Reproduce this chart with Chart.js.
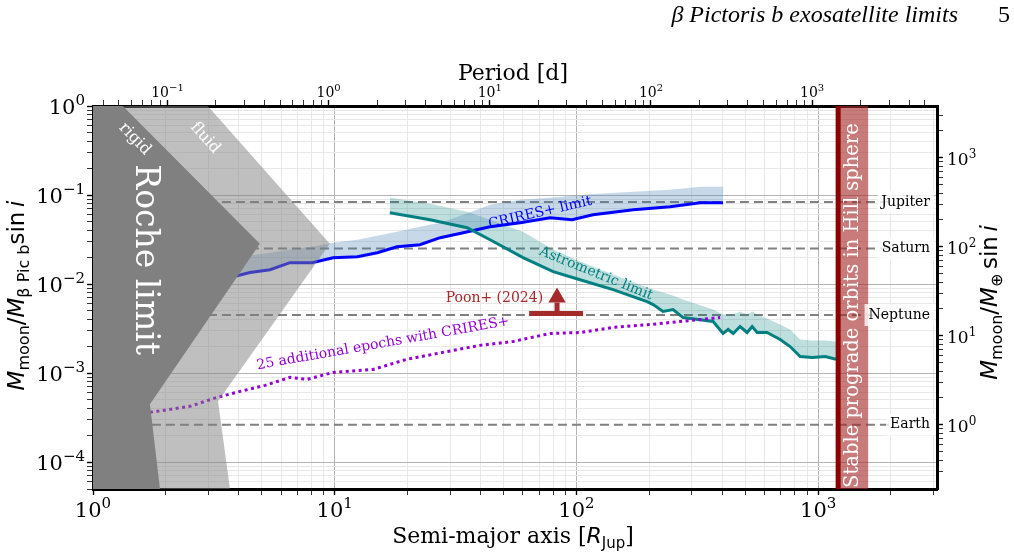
<!DOCTYPE html>
<html>
<head>
<meta charset="utf-8">
<script src="https://cdn.jsdelivr.net/npm/chart.js"></script>
<style>
  html, body { margin: 0; padding: 0; background: #fff; }
</style>
</head>
<body>
<canvas id="chart" width="1014" height="555"></canvas>
<script>
// axis ranges (semi-major axis in R_Jup, moon mass in units of beta Pic b)
const aMin = 1, aMax = 3100;
const mMin = 5e-5, mMax = 1;
const earthPerPicb = 3800;      // M_earth per M_betaPic b
const periodAt1RJ = 0.0345;     // orbital period [d] at a = 1 R_Jup

// reference planets (Earth masses)
const planetNames = ['Jupiter', 'Saturn', 'Neptune', 'Earth'];
const planetMasses = [317.8, 95.2, 17.1, 1];
const planetLineA = [0.9, 2000];
const planetLabelA = 2900;

// CRIRES+ limit and its band
const criresA = [3.2, 3.8, 4.46, 5.4, 6.53, 8.06, 9.84, 12.4, 15.0, 18.1, 22.5, 27.3, 34.0, 43.9, 58.5, 77.8, 95.9, 117, 172, 244, 325, 404];
const criresLimit = [0.0107, 0.0121, 0.0135, 0.0145, 0.0174, 0.0174, 0.0198, 0.0203, 0.0225, 0.0263, 0.0277, 0.0332, 0.0378, 0.0441, 0.0489, 0.0556, 0.0528, 0.0601, 0.0684, 0.0738, 0.0819, 0.0819];
const criresUpper = [0.0161, 0.0179, 0.0209, 0.0225, 0.0244, 0.0263, 0.0292, 0.0315, 0.0350, 0.0388, 0.0441, 0.0489, 0.0601, 0.0777, 0.0885, 0.0932, 0.0981, 0.103, 0.109, 0.115, 0.124, 0.124];

// astrometric limit and its band
const astroA = [16.9, 24.8, 35.3, 43.9, 60.1, 80.1, 103.5, 141.7, 196, 207.5, 228, 251, 276, 367.5, 404, 424, 445, 475, 508, 533, 559, 614, 696, 765, 842, 944, 1068, 1186];
const astroLimit = [0.0633, 0.0528, 0.0430, 0.0315, 0.0198, 0.0138, 0.0112, 0.00868, 0.00637, 0.00589, 0.00492, 0.00518, 0.00421, 0.00380, 0.00279, 0.00309, 0.00279, 0.00334, 0.00286, 0.00334, 0.00286, 0.00286, 0.00239, 0.00199, 0.00154, 0.00150, 0.00154, 0.00143];
const astroUpper = [0.0932, 0.0798, 0.0649, 0.0528, 0.0388, 0.0244, 0.0179, 0.0128, 0.00914, 0.00868, 0.00803, 0.00743, 0.00670, 0.00518, 0.00455, 0.00455, 0.00455, 0.00492, 0.00455, 0.00492, 0.00455, 0.00410, 0.00352, 0.00309, 0.00239, 0.00233, 0.00233, 0.00227];

// 25 additional epochs with CRIRES+
const epochsA = [1.72, 2.52, 3.26, 4.06, 5.15, 6.53, 7.68, 9.84, 14.4, 19.9, 29.2, 39.9, 54.7, 77.8, 103.5, 141.7, 202, 268, 393];
const epochsLimit = [3.63e-4, 4.24e-4, 5.35e-4, 6.24e-4, 7.29e-4, 8.96e-4, 8.51e-4, 1.02e-3, 1.10e-3, 1.43e-3, 1.75e-3, 2.05e-3, 2.27e-3, 2.79e-3, 2.86e-3, 3.26e-3, 3.52e-3, 3.80e-3, 4.21e-3];

// Roche limit regions (outlines)
const rigidA = [0.8, 1.03, 4.90, 1.72, 1.97, 0.8];
const rigidM = [2, 2, 0.0284, 4.47e-4, 2e-5, 2e-5];
const fluidA = [0.8, 2.38, 9.54, 3.29, 3.86, 0.8];
const fluidM = [2, 2, 0.0284, 4.83e-4, 2e-5, 2e-5];

// Poon+ (2024) lower limit
const poonA = [63.7, 106.5];
const poonM = 4.67e-3;
const poonArrowA = 83.1;
const poonShaftTop = 6.2e-3;
const poonHeadM = 7.06e-3;

// stable prograde orbits in Hill sphere
const hillA = [1209, 1609];
const hillM = [1e-6, 10];

// decade tick labels
const aTicks = [1, 10, 100, 1000];
const mTicks = [1e-4, 1e-3, 1e-2, 1e-1, 1];
const pTicks = [0.1, 1, 10, 100, 1000];
const eTicks = [1, 10, 100, 1000];

const pts = (xs, ys) => xs.map((x, i) => ({x: x, y: Array.isArray(ys) ? ys[i] : ys}));
const isDecade = v => Math.abs(v / Math.pow(10, Math.round(Math.log10(v))) - 1) < 1e-6;

// keep only 1..9 x 10^n ticks
function intTicks(scale) {
  scale.ticks = scale.ticks.filter(t => {
    const e = Math.floor(Math.log10(t.value) + 1e-9);
    const r = t.value / Math.pow(10, e);
    return Math.abs(r - Math.round(r)) < 1e-6 && Math.round(r) < 10;
  });
}

function gridOpts(onArea) {
  return {
    drawOnChartArea: onArea,
    color: c => (c.tick && isDecade(c.tick.value)) ? '#b4b4b4' : '#e8e8e8',
    lineWidth: 1,
    tickColor: '#000',
    tickLength: 6,
    tickWidth: c => (c.tick && isDecade(c.tick.value)) ? 1.4 : 0.8
  };
}
const border = {color: '#000', width: 3};

const datasets = [];
// planet reference lines
planetMasses.forEach(m => datasets.push({
  data: pts(planetLineA, m / earthPerPicb),
  borderColor: '#808080', borderWidth: 2, borderDash: [9, 5], order: 100
}));
// CRIRES+
datasets.push({data: pts(criresA, criresLimit), borderColor: '#0000ff', borderWidth: 3, order: 50});
datasets.push({data: pts(criresA, criresUpper), borderWidth: 0, backgroundColor: 'rgba(70,130,180,0.3)', fill: '-1', order: 90});
// astrometry
datasets.push({data: pts(astroA, astroLimit), borderColor: '#008080', borderWidth: 3, order: 49});
datasets.push({data: pts(astroA, astroUpper), borderWidth: 0, backgroundColor: 'rgba(0,128,128,0.25)', fill: '-1', order: 91});
// 25 additional epochs
datasets.push({data: pts(epochsA, epochsLimit), borderColor: '#9400d3', borderWidth: 3, borderDash: [3, 3.5], order: 48});
// Poon+ (2024)
datasets.push({data: pts(poonA, poonM), borderColor: '#a52a2a', borderWidth: 5, order: 40});
datasets.push({data: pts([poonArrowA, poonArrowA], [poonM, poonShaftTop]), borderColor: '#a52a2a', borderWidth: 5, order: 40});
datasets.push({data: pts([poonArrowA], [poonHeadM]), showLine: false, pointStyle: 'triangle', pointRadius: 10,
  pointBackgroundColor: '#a52a2a', pointBorderColor: '#a52a2a', pointBorderWidth: 0, order: 40});
// Hill sphere region
datasets.push({data: pts([hillA[0], hillA[1], hillA[1], hillA[0]], [hillM[0], hillM[0], hillM[1], hillM[1]]),
  borderWidth: 0, backgroundColor: 'rgba(165,42,42,0.62)', fill: 'shape', order: 30});
datasets.push({data: pts([hillA[0], hillA[0]], hillM), borderColor: '#8b0000', borderWidth: 5, order: 29});
// Roche limits
datasets.push({data: pts(fluidA, fluidM), borderWidth: 0, backgroundColor: 'rgba(128,128,128,0.5)', fill: 'shape', order: 20});
datasets.push({data: pts(rigidA, rigidM), borderWidth: 0, backgroundColor: '#808080', fill: 'shape', order: 10});

const notes = [
  {text: 'rigid', a: 1.49, m: 0.427, rot: 46, color: '#fff', size: 16},
  {text: 'fluid', a: 2.91, m: 0.438, rot: 48, color: '#fff', size: 16},
  {text: 'Roche limit', a: 1.64, m: 0.0188, rot: 90, color: '#fff', size: 33},
  {text: 'CRIRES+ limit', a: 70.7, m: 0.0633, rot: -13, color: '#0000ff', size: 14},
  {text: 'Astrometric limit', a: 120.5, m: 0.0131, rot: 22, color: '#008080', size: 14},
  {text: '25 additional epochs with CRIRES+', a: 15.84, m: 2.15e-3, rot: -10, color: '#9400d3', size: 14},
  {text: 'Poon+ (2024)', a: 72.8, m: 6.88e-3, rot: 0, color: '#a52a2a', size: 14, align: 'right'},
  {text: 'Stable prograde orbits in Hill sphere', a: 1395, m: 5.74e-3, rot: -90, color: '#fff', size: 19.5}
];

function richWidth(ctx, parts) {
  let w = 0;
  parts.forEach(p => { ctx.font = p.font; w += ctx.measureText(p.t).width; });
  return w;
}

// align: 0 = left edge at cx, 0.5 = centred, 1 = right edge at cx
function drawRich(ctx, parts, cx, cy, rot, align) {
  const w = richWidth(ctx, parts);
  ctx.save();
  ctx.translate(cx, cy);
  ctx.rotate(rot);
  ctx.fillStyle = '#000';
  ctx.textAlign = 'left';
  ctx.textBaseline = 'alphabetic';
  let xPos = -w * (align === undefined ? 0.5 : align);
  parts.forEach(p => {
    ctx.font = p.font;
    ctx.fillText(p.t, xPos, p.dy || 0);
    xPos += ctx.measureText(p.t).width;
  });
  ctx.restore();
}

const serif = '"DejaVu Serif"';
const mi = '"DejaVu Sans"';
function powerLabel(v, size) {
  const e = Math.round(Math.log10(v));
  return [
    {t: '10', font: size + 'px ' + serif},
    {t: e < 0 ? '\u2212' + (-e) : String(e), font: Math.round(size * 0.7) + 'px ' + serif, dy: -Math.round(size * 0.42)}
  ];
}

const leftTitle = [
  {t: 'M', font: 'italic 23px ' + mi}, {t: 'moon', font: '16px ' + mi, dy: 5},
  {t: '/', font: '23px ' + mi}, {t: 'M', font: 'italic 23px ' + mi},
  {t: 'β Pic b', font: '16px ' + mi, dy: 5}, {t: 'sin', font: '23px ' + mi}, {t: '\u2009', font: '23px ' + mi},
  {t: 'i', font: 'italic 23px ' + mi}
];
const rightTitle = [
  {t: 'M', font: 'italic 23px ' + mi}, {t: 'moon', font: '16px ' + mi, dy: 5},
  {t: '/', font: '23px ' + mi}, {t: 'M', font: 'italic 23px ' + mi},
  {t: '⊕', font: '16px ' + mi, dy: 5}, {t: '\u2009sin', font: '23px ' + mi}, {t: '\u2009', font: '23px ' + mi},
  {t: 'i', font: 'italic 23px ' + mi}
];
const bottomTitle = [
  {t: 'Semi-major axis [', font: '22px ' + serif}, {t: 'R', font: 'italic 22px ' + mi},
  {t: 'Jup', font: '15px ' + mi, dy: 5}, {t: ']', font: '22px ' + serif}
];
const topTitle = [{t: 'Period [d]', font: '22px ' + serif}];

const annotate = {
  id: 'annotate',
  afterDatasetsDraw(chart) {
    const ctx = chart.ctx;
    const x = chart.scales.x, y = chart.scales.y;
    // planet labels
    planetNames.forEach((name, i) => {
      const px = x.getPixelForValue(planetLabelA);
      const py = y.getPixelForValue(planetMasses[i] / earthPerPicb);
      ctx.save();
      ctx.font = '14px ' + serif;
      const w = ctx.measureText(name).width;
      ctx.fillStyle = 'rgba(255,255,255,0.8)';
      ctx.fillRect(px - w - 4, py - 11, w + 8, 22);
      ctx.fillStyle = '#000';
      ctx.textAlign = 'right';
      ctx.textBaseline = 'middle';
      ctx.fillText(name, px, py);
      ctx.restore();
    });
    notes.forEach(n => {
      ctx.save();
      ctx.translate(x.getPixelForValue(n.a), y.getPixelForValue(n.m));
      ctx.rotate(n.rot * Math.PI / 180);
      ctx.font = n.size + 'px ' + serif;
      ctx.fillStyle = n.color;
      ctx.textAlign = n.align || 'center';
      ctx.textBaseline = 'middle';
      ctx.fillText(n.text, 0, 0);
      ctx.restore();
    });
  },
  afterDraw(chart) {
    const ctx = chart.ctx;
    const area = chart.chartArea;
    const s = chart.scales;
    // tick labels 10^n
    aTicks.forEach(v => drawRich(ctx, powerLabel(v, 21), s.x.getPixelForValue(v), area.bottom + 28, 0, 0.5));
    pTicks.forEach(v => drawRich(ctx, powerLabel(v, 14), s.xTop.getPixelForValue(v), area.top - 9, 0, 0.5));
    mTicks.forEach(v => drawRich(ctx, powerLabel(v, 21), area.left - 8, s.y.getPixelForValue(v) + 8, 0, 1));
    eTicks.forEach(v => drawRich(ctx, powerLabel(v, 17), area.right + 10, s.yRight.getPixelForValue(v) + 7, 0, 0));
    // axis titles
    const midX = (area.left + area.right) / 2;
    const midY = (area.top + area.bottom) / 2;
    drawRich(ctx, leftTitle, 24, midY - 2, -Math.PI / 2);
    drawRich(ctx, rightTitle, 997, midY + 5, -Math.PI / 2);
    drawRich(ctx, bottomTitle, midX - 2, 543, 0);
    drawRich(ctx, topTitle, midX - 2, 80, 0);
    // page header
    ctx.save();
    ctx.fillStyle = '#000';
    ctx.textBaseline = 'alphabetic';
    ctx.textAlign = 'right';
    ctx.font = 'italic 24px "Liberation Serif"';
    ctx.fillText('β Pictoris b exosatellite limits', 958, 22);
    ctx.font = '24px "Liberation Serif"';
    ctx.fillText('5', 1010, 22);
    ctx.restore();
  }
};

new Chart(document.getElementById('chart'), {
  type: 'line',
  data: {datasets: datasets},
  options: {
    responsive: false,
    animation: false,
    layout: {padding: 0},
    elements: {point: {radius: 0}, line: {tension: 0, fill: false}},
    plugins: {legend: {display: false}, tooltip: {enabled: false}},
    scales: {
      x: {
        type: 'logarithmic', position: 'bottom', min: aMin, max: aMax,
        afterBuildTicks: intTicks, afterFit: s => { s.height = 66; },
        grid: gridOpts(true), border: border, ticks: {display: false, autoSkip: false}
      },
      xTop: {
        type: 'logarithmic', position: 'top',
        min: periodAt1RJ * Math.pow(aMin, 1.5), max: periodAt1RJ * Math.pow(aMax, 1.5),
        afterBuildTicks: intTicks, afterFit: s => { s.height = 106; },
        grid: gridOpts(false), border: border, ticks: {display: false, autoSkip: false}
      },
      y: {
        type: 'logarithmic', position: 'left', min: mMin, max: mMax,
        afterBuildTicks: intTicks, afterFit: s => { s.width = 93; },
        grid: gridOpts(true), border: border, ticks: {display: false, autoSkip: false}
      },
      yRight: {
        type: 'logarithmic', position: 'right', min: mMin * earthPerPicb, max: mMax * earthPerPicb,
        afterBuildTicks: intTicks, afterFit: s => { s.width = 77; },
        grid: gridOpts(false), border: border, ticks: {display: false, autoSkip: false}
      }
    }
  },
  plugins: [annotate]
});
</script>
</body>
</html>
